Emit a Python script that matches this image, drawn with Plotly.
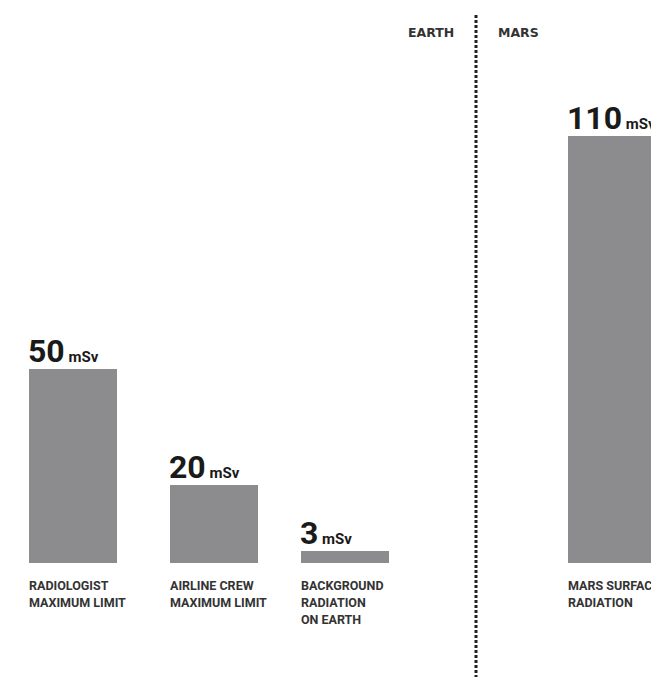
import plotly.graph_objects as go

# ---- data ----
categories = [
    ["RADIOLOGIST", "MAXIMUM LIMIT"],
    ["AIRLINE CREW", "MAXIMUM LIMIT"],
    ["BACKGROUND", "RADIATION", "ON EARTH"],
    ["MARS SURFACE", "RADIATION"],
]
values = [50, 20, 3, 110]
unit = "mSv"
region_labels = ["EARTH", "MARS"]

# ---- layout helpers (positions on the x axis) ----
x_pos = [73, 214, 345, 612]
bar_width = 88
divider_x = 476

W, H = 651, 679
px_per_unit = 3.88
baseline_px = 563
y_top = baseline_px / px_per_unit
y_bot = -(H - baseline_px) / px_per_unit

BAR_COLOR = "#8c8c8e"
TEXT_COLOR = "#1a1a1a"
LABEL_COLOR = "#333333"

fig = go.Figure()
fig.add_trace(go.Bar(
    x=x_pos, y=values, width=bar_width,
    marker=dict(color=BAR_COLOR, line=dict(width=0)),
    hoverinfo="skip", showlegend=False,
))

annotations = []
for xp, v, cat in zip(x_pos, values, categories):
    left = xp - bar_width / 2
    annotations.append(dict(
        x=left, y=v, xref="x", yref="y", xanchor="left", yanchor="bottom",
        text=f"<b>{v}</b><span style='font-size:15px'><b> {unit}</b></span>",
        showarrow=False, font=dict(family="Roboto", size=32, color=TEXT_COLOR),
        yshift=-3, xshift=-3,
    ))
    for i, line in enumerate(cat):
        annotations.append(dict(
            x=left, y=0, xref="x", yref="y", xanchor="left", yanchor="top",
            text=f"<b>{line}</b>", showarrow=False,
            font=dict(family="Roboto", size=12.5, color=LABEL_COLOR),
            yshift=-13 - 17 * i, xshift=-2,
        ))

annotations.append(dict(
    x=divider_x - 20, y=1 - 32 / H, xref="x", yref="paper", yanchor="middle",
    xanchor="right", text=f"<b>{region_labels[0]}</b>", showarrow=False,
    font=dict(family="DejaVu Sans", size=12.5, color="#333333"),
))
annotations.append(dict(
    x=divider_x + 20, y=1 - 32 / H, xref="x", yref="paper", yanchor="middle",
    xanchor="left", text=f"<b>{region_labels[1]}</b>", showarrow=False,
    font=dict(family="DejaVu Sans", size=12.5, color="#333333"),
))

fig.update_layout(
    width=W, height=H,
    margin=dict(l=0, r=0, t=0, b=0),
    paper_bgcolor="white", plot_bgcolor="white",
    xaxis=dict(range=[0, W], visible=False, fixedrange=True),
    yaxis=dict(range=[y_bot, y_top], visible=False, fixedrange=True),
    annotations=annotations,
    shapes=[dict(
        type="line", xref="x", yref="paper",
        x0=divider_x, x1=divider_x, y0=1 - 15 / H, y1=1 - 677 / H,
        line=dict(color="#222222", width=3, dash="3px,2px"),
    )],
    bargap=0,
)

fig.write_html(
    "out.html",
    config={"displayModeBar": False},
    post_script="document.body.style.margin='0';document.body.style.overflow='hidden';",
)
